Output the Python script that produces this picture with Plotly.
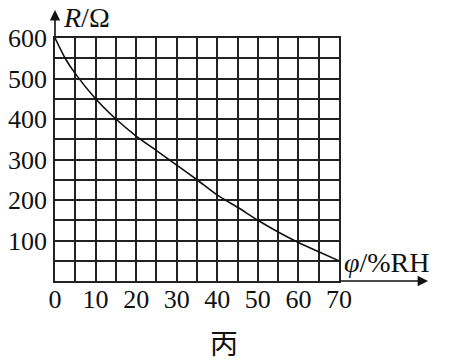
import plotly.graph_objects as go

# Data
phi = [0, 2.5, 5, 10, 15, 20, 25, 30, 35, 40, 45, 50, 55, 60, 65, 70]
R = [600, 550, 512, 450, 400, 358, 322, 286, 250, 212, 182, 150, 121, 95, 72, 50]
x_ticks = [0, 10, 20, 30, 40, 50, 60, 70]
y_ticks = [100, 200, 300, 400, 500, 600]

L, Rm, T, B = 55, 112, 38, 80
W, H = 451, 361
pw, ph = W - L - Rm, H - T - B

fig = go.Figure()
fig.add_trace(go.Scatter(x=phi, y=R, mode="lines",
                         line=dict(color="#111", width=1.6, shape="spline", smoothing=0.6),
                         showlegend=False, hoverinfo="skip"))

grid_col = "#222"
fig.update_xaxes(range=[0, 70], tickvals=x_ticks, ticktext=[str(v) for v in x_ticks],
                 showgrid=True, gridcolor=grid_col, gridwidth=1.8,
                 minor=dict(dtick=5, tick0=0, showgrid=True, gridcolor=grid_col, gridwidth=1.8),
                 showline=True, linecolor=grid_col, linewidth=1.8, mirror=True,
                 zeroline=False, ticks="", ticklabelstandoff=-6, automargin=False,
                 tickfont=dict(family="Liberation Serif", size=26, color="#111"))
fig.update_yaxes(range=[0, 600], tickvals=y_ticks, ticktext=[str(v) for v in y_ticks],
                 showgrid=True, gridcolor=grid_col, gridwidth=1.8,
                 minor=dict(dtick=50, tick0=0, showgrid=True, gridcolor=grid_col, gridwidth=1.8),
                 showline=True, linecolor=grid_col, linewidth=1.8, mirror=True,
                 zeroline=False, ticks="", ticklabelstandoff=1, automargin=False,
                 tickfont=dict(family="Liberation Serif", size=26, color="#111"))

annos = [
    # y-axis arrow
    dict(x=0, y=1 + 28 / ph, xref="paper", yref="paper", ax=0, ay=28, axref="pixel", ayref="pixel",
         text="", showarrow=True, arrowhead=2, arrowsize=1.3, arrowwidth=1.6, arrowcolor="#111"),
    # x-axis arrow
    dict(x=1 + 89 / pw, y=0, xref="paper", yref="paper", ax=-89, ay=0,
         text="", showarrow=True, arrowhead=2, arrowsize=1.3, arrowwidth=1.6, arrowcolor="#111"),
    dict(x=(61 - L) / pw, y=1 + 20 / ph, xref="paper", yref="paper", xanchor="left", yanchor="middle",
         text="<i>R</i>/Ω", showarrow=False,
         font=dict(family="Liberation Serif", size=28, color="#111")),
    dict(x=(342 - L) / pw, y=(H - B - 262) / ph, xref="paper", yref="paper", xanchor="left", yanchor="middle",
         text="<i>φ</i>/%RH", showarrow=False,
         font=dict(family="Liberation Serif", size=28, color="#111")),
    dict(x=(224 - L) / pw, y=-(342 - (H - B)) / ph, xref="paper", yref="paper", xanchor="center", yanchor="middle",
         text="丙", showarrow=False,
         font=dict(family="Noto Sans CJK SC", size=28, color="#111")),
]

fig.update_layout(width=W, height=H, margin=dict(l=L, r=Rm, t=T, b=B),
                  paper_bgcolor="white", plot_bgcolor="white", annotations=annos)
fig.write_html("out.html")
